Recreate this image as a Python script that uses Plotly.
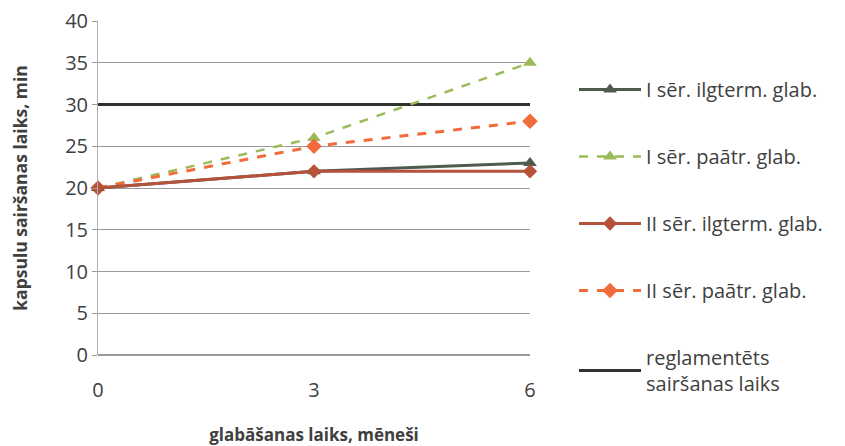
import plotly.graph_objects as go

months = [0, 3, 6]
i_ilg = [20, 22, 23]
i_paatr = [20, 26, 35]
ii_ilg = [20, 22, 22]
ii_paatr = [20, 25, 28]
regl = [30, 30, 30]

names = ["I sēr. ilgterm. glab.", "I sēr. paātr. glab.", "II sēr. ilgterm. glab.",
         "II sēr. paātr. glab.", "reglamentēts<br>sairšanas laiks"]

fig = go.Figure()
fig.add_trace(go.Scatter(x=months, y=regl, name=names[4], mode="lines",
                         line=dict(color="#2e332e", width=3), legendgroup="e", legendrank=5))
fig.add_trace(go.Scatter(x=months, y=i_paatr, name=names[1], mode="lines+markers",
                         line=dict(color="#9bbb59", width=2.5, dash="dash"),
                         marker=dict(symbol="triangle-up", size=12, color="#9bbb59"),
                         legendgroup="b", legendrank=2))
fig.add_trace(go.Scatter(x=months, y=ii_paatr, name=names[3], mode="lines+markers",
                         line=dict(color="#f26b3a", width=3, dash="dash"),
                         marker=dict(symbol="diamond", size=12, color="#f26b3a"),
                         legendgroup="d", legendrank=4))
fig.add_trace(go.Scatter(x=months, y=i_ilg, name=names[0], mode="lines+markers",
                         line=dict(color="#4f5a4f", width=3),
                         marker=dict(symbol="triangle-up", size=12, color="#4f5a4f"),
                         legendgroup="a", legendrank=1))
fig.add_trace(go.Scatter(x=months, y=ii_ilg, name=names[2], mode="lines+markers",
                         line=dict(color="#b4523a", width=3),
                         marker=dict(symbol="diamond", size=11, color="#b4523a"),
                         legendgroup="c", legendrank=3))

fig.update_traces(cliponaxis=False)

fig.update_layout(
    width=845, height=446,
    margin=dict(l=98, r=315, t=21, b=91, autoexpand=False),
    paper_bgcolor="white", plot_bgcolor="white",
    font=dict(family="Open Sans, sans-serif", color="#404040", size=20),
    xaxis=dict(range=[0, 6], tickvals=[0, 3, 6], showgrid=False, zeroline=False,
               showline=False, ticks="", tickfont=dict(size=20, color="#404040"),
               ticklabelstandoff=21, automargin=False,
               title=dict(text="<b>glabāšanas laiks, mēneši</b>", font=dict(size=17, color="#404040"),
                          standoff=32)),
    yaxis=dict(range=[0, 40], tickvals=list(range(0, 45, 5)), showgrid=True,
               gridcolor="#9a9a9a", gridwidth=1, zeroline=True, zerolinecolor="#9a9a9a",
               showline=True, linecolor="#b0b0b0", ticks="outside", ticklen=5, tickcolor="#9a9a9a",
               tickfont=dict(size=20, color="#404040"), automargin=False,
               title=dict(text="<b>kapsulu sairšanas laiks, min</b>", font=dict(size=17.5, color="#404040"),
                          standoff=33)),
    legend=dict(xref="container", yref="container", x=574/845, y=1-70/446,
                xanchor="left", yanchor="top", tracegroupgap=38, itemwidth=62,
                maxheight=440,
                font=dict(size=20, color="#404040"), bgcolor="rgba(0,0,0,0)"),
    showlegend=True,
)

fig.write_html("out.html")
